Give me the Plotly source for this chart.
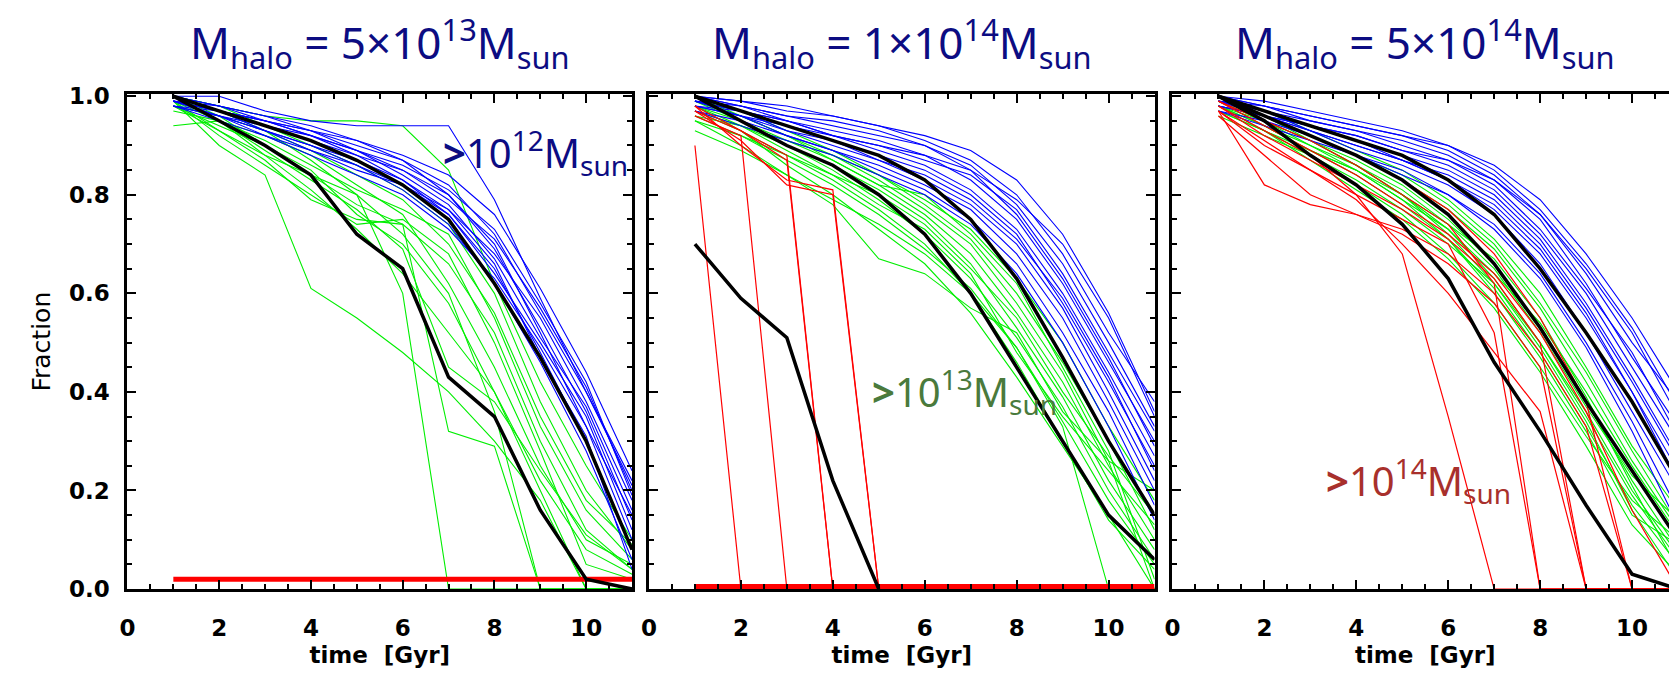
import plotly.graph_objects as go

times = [1, 2, 3, 4, 5, 6, 7, 8, 9, 10, 11]

titles = ["M<sub>halo</sub> = 5×10<sup>13</sup>M<sub>sun</sub>",
          "M<sub>halo</sub> = 1×10<sup>14</sup>M<sub>sun</sub>",
          "M<sub>halo</sub> = 5×10<sup>14</sup>M<sub>sun</sub>"]

x_ticks = [0, 2, 4, 6, 8, 10]
y_ticks = [0.0, 0.2, 0.4, 0.6, 0.8, 1.0]

# ---------------- Panel 1 : 5e13 ----------------
p1_blue = [
    [1.00, 1.00, 0.97, 0.95, 0.94, 0.94, 0.94, 0.79, 0.59, 0.40, 0.22],
    [0.99, 0.97, 0.95, 0.93, 0.90, 0.87, 0.82, 0.72, 0.56, 0.40, 0.21],
    [0.99, 0.96, 0.93, 0.90, 0.87, 0.83, 0.77, 0.68, 0.55, 0.38, 0.18],
    [0.98, 0.96, 0.94, 0.91, 0.88, 0.85, 0.80, 0.70, 0.52, 0.33, 0.15],
    [0.99, 0.97, 0.94, 0.92, 0.89, 0.86, 0.81, 0.73, 0.58, 0.42, 0.19],
    [1.00, 0.98, 0.95, 0.92, 0.88, 0.83, 0.76, 0.64, 0.50, 0.35, 0.12],
    [0.98, 0.95, 0.92, 0.89, 0.86, 0.82, 0.76, 0.65, 0.48, 0.30, 0.08],
    [0.99, 0.97, 0.95, 0.93, 0.91, 0.88, 0.84, 0.76, 0.61, 0.44, 0.24],
    [0.98, 0.96, 0.93, 0.90, 0.86, 0.81, 0.74, 0.62, 0.46, 0.28, 0.06],
    [1.00, 0.98, 0.96, 0.94, 0.91, 0.87, 0.80, 0.69, 0.53, 0.36, 0.14],
    [0.99, 0.96, 0.92, 0.88, 0.84, 0.80, 0.73, 0.63, 0.49, 0.33, 0.10],
    [0.98, 0.97, 0.95, 0.92, 0.89, 0.85, 0.79, 0.71, 0.57, 0.41, 0.20],
    [0.99, 0.98, 0.96, 0.93, 0.89, 0.84, 0.78, 0.67, 0.51, 0.37, 0.16],
    [1.00, 0.97, 0.93, 0.89, 0.85, 0.82, 0.77, 0.66, 0.47, 0.31, 0.04],
]
p1_green = [
    [1.00, 0.98, 0.96, 0.95, 0.95, 0.94, 0.85, 0.62, 0.42, 0.25, 0.10],
    [0.94, 0.95, 0.88, 0.84, 0.80, 0.60, 0.00, 0.00, 0.00, 0.00, 0.00],
    [0.98, 0.93, 0.87, 0.79, 0.75, 0.74, 0.32, 0.29, 0.00, 0.00, 0.00],
    [0.99, 0.90, 0.84, 0.61, 0.55, 0.48, 0.40, 0.30, 0.18, 0.00, 0.00],
    [1.00, 0.96, 0.90, 0.84, 0.78, 0.74, 0.66, 0.52, 0.30, 0.12, 0.04],
    [0.99, 0.95, 0.92, 0.88, 0.82, 0.76, 0.62, 0.45, 0.25, 0.10, 0.05],
    [0.98, 0.94, 0.90, 0.85, 0.76, 0.70, 0.58, 0.40, 0.22, 0.08, 0.03],
    [1.00, 0.97, 0.93, 0.87, 0.80, 0.72, 0.60, 0.36, 0.00, 0.00, 0.00],
    [0.99, 0.93, 0.88, 0.81, 0.73, 0.64, 0.52, 0.40, 0.20, 0.00, 0.00],
    [0.97, 0.95, 0.91, 0.86, 0.81, 0.77, 0.72, 0.55, 0.33, 0.16, 0.06],
    [1.00, 0.98, 0.94, 0.90, 0.86, 0.81, 0.74, 0.60, 0.38, 0.20, 0.08],
    [0.99, 0.92, 0.86, 0.80, 0.74, 0.75, 0.68, 0.50, 0.28, 0.05, 0.02],
    [0.98, 0.96, 0.93, 0.89, 0.84, 0.79, 0.70, 0.56, 0.35, 0.18, 0.09],
    [1.00, 0.95, 0.89, 0.83, 0.77, 0.69, 0.45, 0.38, 0.24, 0.11, 0.04],
]
p1_red = [
    [0.02, 0.02, 0.02, 0.02, 0.02, 0.02, 0.02, 0.02, 0.02, 0.02, 0.02],
]
p1_black = [
    [1.00, 0.97, 0.94, 0.91, 0.87, 0.82, 0.75, 0.62, 0.47, 0.30, 0.08],
    [1.00, 0.95, 0.90, 0.84, 0.72, 0.65, 0.43, 0.35, 0.16, 0.02, 0.00],
]

# ---------------- Panel 2 : 1e14 ----------------
p2_blue = [
    [1.00, 0.99, 0.97, 0.96, 0.94, 0.91, 0.87, 0.80, 0.68, 0.52, 0.38],
    [0.99, 0.97, 0.95, 0.93, 0.91, 0.88, 0.83, 0.75, 0.62, 0.46, 0.30],
    [0.98, 0.96, 0.93, 0.91, 0.88, 0.85, 0.80, 0.72, 0.58, 0.42, 0.25],
    [1.00, 0.98, 0.96, 0.94, 0.92, 0.90, 0.86, 0.78, 0.66, 0.50, 0.33],
    [0.99, 0.96, 0.92, 0.89, 0.86, 0.82, 0.77, 0.68, 0.55, 0.38, 0.20],
    [0.98, 0.97, 0.95, 0.92, 0.89, 0.86, 0.81, 0.73, 0.60, 0.44, 0.27],
    [1.00, 0.98, 0.95, 0.92, 0.90, 0.87, 0.84, 0.77, 0.64, 0.48, 0.32],
    [0.97, 0.95, 0.92, 0.89, 0.85, 0.81, 0.75, 0.66, 0.52, 0.36, 0.17],
    [0.99, 0.98, 0.96, 0.95, 0.93, 0.90, 0.85, 0.76, 0.63, 0.47, 0.29],
    [1.00, 0.97, 0.94, 0.91, 0.87, 0.83, 0.78, 0.70, 0.57, 0.40, 0.22],
    [0.98, 0.96, 0.94, 0.92, 0.90, 0.88, 0.85, 0.79, 0.70, 0.55, 0.35],
    [0.99, 0.97, 0.93, 0.90, 0.87, 0.84, 0.79, 0.71, 0.59, 0.43, 0.24],
    [0.97, 0.94, 0.91, 0.88, 0.84, 0.80, 0.74, 0.64, 0.50, 0.33, 0.14],
    [1.00, 0.99, 0.98, 0.96, 0.94, 0.92, 0.89, 0.83, 0.72, 0.56, 0.36],
]
p2_green = [
    [0.98, 0.95, 0.91, 0.87, 0.82, 0.76, 0.68, 0.56, 0.42, 0.25, 0.10],
    [0.97, 0.93, 0.88, 0.83, 0.77, 0.70, 0.60, 0.46, 0.30, 0.14, 0.04],
    [0.95, 0.90, 0.84, 0.78, 0.67, 0.64, 0.57, 0.52, 0.36, 0.26, 0.20],
    [0.99, 0.96, 0.92, 0.88, 0.83, 0.77, 0.70, 0.58, 0.44, 0.26, 0.00],
    [0.96, 0.92, 0.87, 0.82, 0.76, 0.69, 0.61, 0.49, 0.33, 0.00, 0.00],
    [0.98, 0.94, 0.90, 0.85, 0.79, 0.72, 0.63, 0.51, 0.37, 0.20, 0.06],
    [1.00, 0.97, 0.93, 0.89, 0.84, 0.78, 0.71, 0.60, 0.46, 0.30, 0.12],
    [0.93, 0.89, 0.84, 0.79, 0.74, 0.68, 0.60, 0.49, 0.34, 0.18, 0.05],
    [0.99, 0.95, 0.90, 0.86, 0.81, 0.75, 0.66, 0.53, 0.39, 0.22, 0.08],
    [0.97, 0.94, 0.89, 0.84, 0.80, 0.74, 0.65, 0.55, 0.40, 0.27, 0.15],
    [0.95, 0.92, 0.88, 0.84, 0.78, 0.73, 0.64, 0.48, 0.35, 0.24, 0.13],
    [1.00, 0.96, 0.92, 0.87, 0.82, 0.80, 0.72, 0.62, 0.45, 0.28, 0.02],
    [0.98, 0.93, 0.86, 0.80, 0.73, 0.66, 0.56, 0.43, 0.29, 0.15, 0.00],
    [0.96, 0.94, 0.91, 0.88, 0.84, 0.79, 0.73, 0.63, 0.50, 0.33, 0.18],
]
p2_red = [
    [0.90, 0.00, 0.00, 0.00, 0.00, 0.00, 0.00, 0.00, 0.00, 0.00, 0.00],
    [0.96, 0.92, 0.00, 0.00, 0.00, 0.00, 0.00, 0.00, 0.00, 0.00, 0.00],
    [0.97, 0.93, 0.87, 0.00, 0.00, 0.00, 0.00, 0.00, 0.00, 0.00, 0.00],
    [0.98, 0.93, 0.88, 0.00, 0.00, 0.00, 0.00, 0.00, 0.00, 0.00, 0.00],
    [0.98, 0.90, 0.83, 0.81, 0.00, 0.00, 0.00, 0.00, 0.00, 0.00, 0.00],
    [0.97, 0.91, 0.82, 0.80, 0.00, 0.00, 0.00, 0.00, 0.00, 0.00, 0.00],
]
p2_red_floor = [0.005, 0.005, 0.005, 0.005, 0.005, 0.005, 0.005, 0.005, 0.005, 0.005, 0.005]
p2_black = [
    [1.00, 0.97, 0.94, 0.91, 0.88, 0.83, 0.75, 0.63, 0.47, 0.30, 0.15],
    [1.00, 0.95, 0.90, 0.86, 0.80, 0.72, 0.60, 0.45, 0.30, 0.15, 0.06],
    [0.70, 0.59, 0.51, 0.22, 0.00],
]

# ---------------- Panel 3 : 5e14 ----------------
p3_blue = [
    [1.00, 0.98, 0.96, 0.94, 0.92, 0.89, 0.84, 0.76, 0.64, 0.50, 0.38],
    [0.99, 0.97, 0.94, 0.92, 0.89, 0.86, 0.81, 0.72, 0.60, 0.45, 0.30],
    [0.98, 0.96, 0.93, 0.90, 0.87, 0.83, 0.77, 0.68, 0.55, 0.40, 0.24],
    [1.00, 0.98, 0.95, 0.93, 0.91, 0.88, 0.83, 0.75, 0.62, 0.47, 0.33],
    [0.99, 0.96, 0.93, 0.89, 0.86, 0.82, 0.76, 0.66, 0.52, 0.36, 0.20],
    [0.98, 0.96, 0.94, 0.91, 0.88, 0.85, 0.80, 0.71, 0.58, 0.43, 0.27],
    [1.00, 0.97, 0.95, 0.93, 0.90, 0.87, 0.82, 0.73, 0.61, 0.48, 0.31],
    [0.97, 0.95, 0.92, 0.88, 0.85, 0.80, 0.74, 0.64, 0.50, 0.34, 0.16],
    [0.99, 0.98, 0.96, 0.94, 0.92, 0.90, 0.86, 0.79, 0.68, 0.55, 0.40],
    [1.00, 0.97, 0.94, 0.91, 0.87, 0.83, 0.78, 0.69, 0.56, 0.40, 0.22],
    [0.98, 0.96, 0.94, 0.92, 0.89, 0.87, 0.83, 0.76, 0.65, 0.52, 0.35],
    [0.99, 0.97, 0.93, 0.90, 0.87, 0.84, 0.79, 0.70, 0.57, 0.42, 0.26],
    [0.97, 0.94, 0.91, 0.88, 0.84, 0.80, 0.73, 0.63, 0.49, 0.32, 0.13],
    [1.00, 0.99, 0.97, 0.95, 0.93, 0.90, 0.85, 0.77, 0.66, 0.53, 0.37],
]
p3_green = [
    [0.99, 0.95, 0.91, 0.87, 0.82, 0.75, 0.66, 0.53, 0.38, 0.22, 0.08],
    [0.98, 0.94, 0.89, 0.84, 0.78, 0.71, 0.61, 0.48, 0.33, 0.17, 0.05],
    [0.97, 0.93, 0.88, 0.82, 0.76, 0.68, 0.58, 0.45, 0.31, 0.18, 0.10],
    [1.00, 0.96, 0.92, 0.88, 0.83, 0.77, 0.69, 0.57, 0.42, 0.26, 0.12],
    [0.98, 0.93, 0.87, 0.81, 0.75, 0.67, 0.57, 0.44, 0.29, 0.13, 0.03],
    [0.99, 0.95, 0.90, 0.86, 0.81, 0.74, 0.65, 0.52, 0.37, 0.23, 0.14],
    [1.00, 0.97, 0.93, 0.89, 0.85, 0.79, 0.71, 0.60, 0.45, 0.29, 0.16],
    [0.96, 0.92, 0.88, 0.83, 0.77, 0.70, 0.62, 0.50, 0.36, 0.20, 0.07],
    [0.99, 0.94, 0.89, 0.85, 0.80, 0.73, 0.63, 0.50, 0.35, 0.19, 0.06],
    [0.98, 0.95, 0.91, 0.86, 0.80, 0.72, 0.62, 0.49, 0.34, 0.16, 0.02],
    [0.97, 0.93, 0.89, 0.85, 0.79, 0.73, 0.64, 0.54, 0.40, 0.25, 0.11],
    [1.00, 0.96, 0.91, 0.86, 0.80, 0.74, 0.67, 0.55, 0.39, 0.21, 0.04],
    [0.98, 0.94, 0.90, 0.85, 0.79, 0.71, 0.60, 0.47, 0.32, 0.15, 0.09],
    [0.99, 0.96, 0.92, 0.88, 0.84, 0.78, 0.70, 0.58, 0.44, 0.28, 0.13],
]
p3_red = [
    [0.98, 0.93, 0.88, 0.80, 0.68, 0.35, 0.00, 0.00, 0.00, 0.00, 0.00],
    [0.97, 0.90, 0.85, 0.80, 0.75, 0.70, 0.52, 0.00, 0.00, 0.00, 0.00],
    [0.99, 0.95, 0.91, 0.86, 0.80, 0.74, 0.62, 0.00, 0.00, 0.00, 0.00],
    [0.96, 0.88, 0.80, 0.76, 0.72, 0.66, 0.58, 0.45, 0.00, 0.00, 0.00],
    [0.98, 0.92, 0.87, 0.82, 0.77, 0.71, 0.63, 0.50, 0.00, 0.00, 0.00],
    [1.00, 0.96, 0.92, 0.88, 0.83, 0.77, 0.68, 0.55, 0.38, 0.00, 0.00],
    [0.97, 0.82, 0.78, 0.76, 0.73, 0.68, 0.60, 0.48, 0.33, 0.00, 0.00],
    [0.99, 0.94, 0.89, 0.84, 0.78, 0.72, 0.64, 0.52, 0.36, 0.16, 0.00],
    [0.97, 0.91, 0.85, 0.79, 0.70, 0.60, 0.48, 0.36, 0.00, 0.00, 0.00],
]
p3_black = [
    [1.00, 0.97, 0.94, 0.91, 0.88, 0.83, 0.76, 0.65, 0.52, 0.38, 0.22],
    [1.00, 0.96, 0.92, 0.88, 0.83, 0.76, 0.66, 0.53, 0.38, 0.24, 0.10],
    [1.00, 0.95, 0.88, 0.82, 0.74, 0.63, 0.46, 0.32, 0.17, 0.03, 0.00],
]

panels = [
    dict(green=p1_green, blue=p1_blue, red=p1_red, floor=None, black=p1_black, red_w=5),
    dict(green=p2_green, blue=p2_blue, red=p2_red, floor=p2_red_floor, black=p2_black, red_w=1.2),
    dict(green=p3_green, blue=p3_blue, red=p3_red, floor=None, black=p3_black, red_w=1.2),
]

W, H = 1677, 677
x_px = [(112, 619), (636, 1144), (1162, 1670)]
y_top, y_bot = 78, 591

fig = go.Figure()
for i, p in enumerate(panels):
    xa = "x" if i == 0 else f"x{i+1}"
    ya = "y" if i == 0 else f"y{i+1}"
    def add(ys, color, w):
        fig.add_trace(go.Scatter(x=times[:len(ys)], y=ys, mode="lines",
                                 line=dict(color=color, width=w),
                                 xaxis=xa, yaxis=ya, showlegend=False,
                                 hoverinfo="skip"))
    for s in p["green"]:
        add(s, "#00ee00", 1.1)
    for s in p["blue"]:
        add(s, "#0000ff", 1.1)
    if p["floor"] is not None:
        add(p["floor"], "#ff0000", 5)
    for s in p["red"]:
        add(s, "#ff0000", p["red_w"])
    for s in p["black"]:
        add(s, "#000000", 3.5)

tickfont = dict(family="DejaVu Sans", size=23, color="black", weight="bold")
for i in range(3):
    xl, xr = x_px[i]
    xkey = "xaxis" if i == 0 else f"xaxis{i+1}"
    ykey = "yaxis" if i == 0 else f"yaxis{i+1}"
    anchor_y = "y" if i == 0 else f"y{i+1}"
    anchor_x = "x" if i == 0 else f"x{i+1}"
    fig.layout[xkey] = dict(
        domain=[xl / W, xr / W], anchor=anchor_y, range=[0, 11],
        tickvals=x_ticks, ticktext=[str(v) for v in x_ticks],
        ticks="inside", ticklen=9, tickwidth=2, tickcolor="black",
        minor=dict(ticks="inside", ticklen=5, tickwidth=2, dtick=0.5, tick0=0, tickcolor="black"),
        showline=True, linewidth=3, linecolor="black", mirror="allticks",
        showgrid=False, zeroline=False, tickfont=tickfont, ticklabelstandoff=16,
        title=dict(text="time  [Gyr]", font=dict(family="DejaVu Sans", size=23, color="black", weight="bold"), standoff=8),
    )
    fig.layout[ykey] = dict(
        domain=[(H - y_bot) / H, (H - y_top) / H], anchor=anchor_x, range=[0, 1.004],
        tickvals=y_ticks, ticktext=[f"{v:.1f}" for v in y_ticks],
        ticks="inside", ticklen=9, tickwidth=2, tickcolor="black",
        minor=dict(ticks="inside", ticklen=5, tickwidth=2, dtick=0.05, tick0=0, tickcolor="black"),
        showline=True, linewidth=3, linecolor="black", mirror="allticks",
        showgrid=False, zeroline=False, tickfont=tickfont,
        showticklabels=(i == 0), ticklabelstandoff=10,
        title=dict(text="Fraction" if i == 0 else "", font=dict(family="DejaVu Sans", size=25, color="black"), standoff=12),
    )

title_font = dict(family="Noto Sans", size=44, color="#0c0c82")
annotations = []
for i in range(3):
    xl, xr = x_px[i]
    annotations.append(dict(text=titles[i], x=(xl + xr) / 2 / W, y=1 - 25 / H,
                            xref="paper", yref="paper", showarrow=False,
                            xanchor="center", yanchor="middle", font=title_font))

annotations.append(dict(text="<b>&gt;</b>10<sup>12</sup>M<sub>sun</sub>", x=8.9, y=0.885,
                        xref="x", yref="y", showarrow=False, xanchor="center", yanchor="middle",
                        font=dict(family="Noto Sans", size=40, color="#0c0c82")))
annotations.append(dict(text="<b>&gt;</b>10<sup>13</sup>M<sub>sun</sub>", x=6.87, y=0.40,
                        xref="x2", yref="y2", showarrow=False, xanchor="center", yanchor="middle",
                        font=dict(family="Noto Sans", size=40, color="#4a7a3c")))
annotations.append(dict(text="<b>&gt;</b>10<sup>14</sup>M<sub>sun</sub>", x=5.35, y=0.22,
                        xref="x3", yref="y3", showarrow=False, xanchor="center", yanchor="middle",
                        font=dict(family="Noto Sans", size=40, color="#a8302c")))

fig.update_layout(width=W, height=H, margin=dict(l=0, r=0, t=0, b=0),
                  plot_bgcolor="white", paper_bgcolor="white",
                  annotations=annotations)

fig.write_html("out.html")
